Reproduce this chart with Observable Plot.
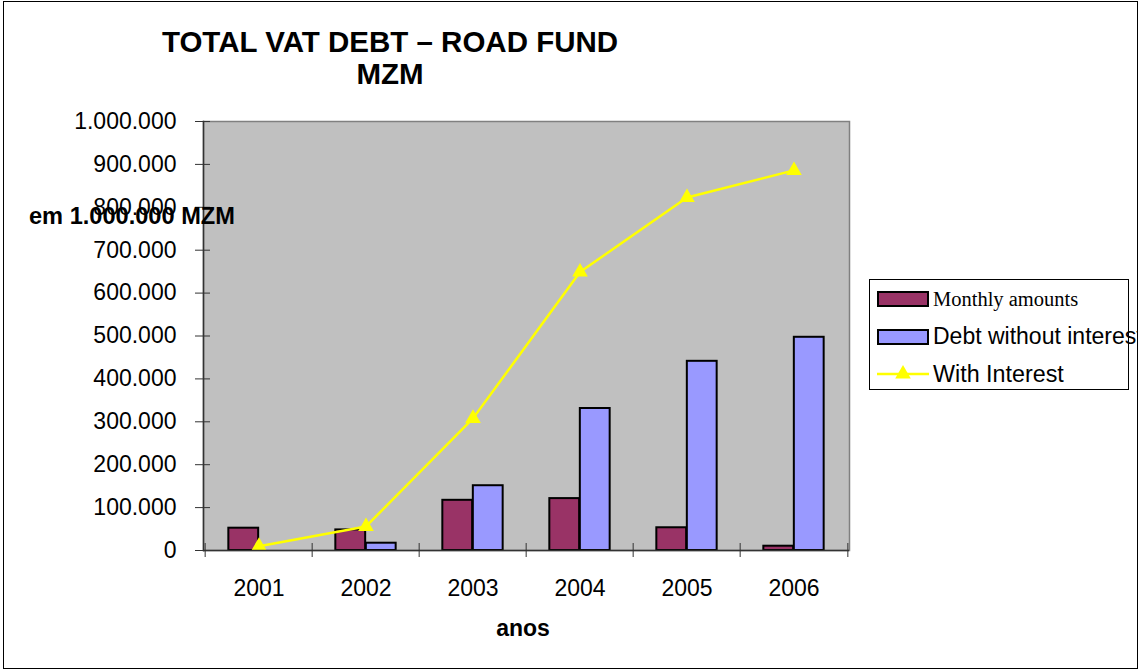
<!DOCTYPE html>
<html><head><meta charset="utf-8">
<script src="https://cdn.jsdelivr.net/npm/d3@7"></script>
<script src="https://cdn.jsdelivr.net/npm/@observablehq/plot@0.6"></script>
<style>
body{margin:0;background:#fff;}
#wrap{position:relative;width:1138px;height:670px;overflow:hidden;font-family:"Liberation Sans",Arial,sans-serif;color:#000;}
.abs{position:absolute;white-space:nowrap;line-height:1;}
#wrap svg.plot{position:absolute;left:0;top:0;}
</style></head><body><div id="wrap"></div>
<script>
// ---- data ----
const years = ["2001", "2002", "2003", "2004", "2005", "2006"];
const monthlyAmounts = [52000, 48000, 117000, 121000, 53000, 10000];
const debtWithoutInterest = [null, 17000, 151000, 331000, 441000, 497000];
const withInterest = [10000, 56000, 308000, 649000, 823000, 886000];
const yTicks = [0, 100000, 200000, 300000, 400000, 500000, 600000, 700000, 800000, 900000, 1000000];
const seriesNames = ["Monthly amounts", "Debt without interest", "With Interest"];
const titleLines = ["TOTAL VAT DEBT \u2013 ROAD FUND", "MZM"];
const yLabel = "em 1.000.000 MZM";
const xLabel = "anos";

const rows = years.map((y, i) => ({year: y, monthly: monthlyAmounts[i], debt: debtWithoutInterest[i], interest: withInterest[i]}));
const fmt = d => d3.format(",")(d).replace(/,/g, ".");

const W = 1138, H = 670, mL = 203, mR = 289, mT = 121, mB = 120;
const half = (W - mL - mR) / years.length / 2;
const frameW = W - mL - mR, frameH = H - mT - mB;

const chart = Plot.plot({
  width: W, height: H,
  marginLeft: mL, marginRight: mR, marginTop: mT, marginBottom: mB,
  style: {fontFamily: "Liberation Sans, Arial, sans-serif", fontSize: "23px", color: "#000", background: "transparent", overflow: "visible"},
  x: {type: "band", domain: years, padding: 0, label: null},
  y: {domain: [0, 1000000], label: null},
  marks: [
    Plot.frame({fill: "#c0c0c0", stroke: "#808080", strokeWidth: 1.5}),
    Plot.barY(rows.filter(d => d.monthly != null), {x: "year", y: "monthly", fill: "#993366", stroke: "#000", strokeWidth: 2, insetLeft: half - 30.5, insetRight: half}),
    Plot.barY(rows.filter(d => d.debt != null), {x: "year", y: "debt", fill: "#9999ff", stroke: "#000", strokeWidth: 2, insetLeft: half, insetRight: half - 30.5}),
    Plot.line(rows, {x: "year", y: "interest", stroke: "#ffff00", strokeWidth: 2.5}),
    Plot.dot(rows, {x: "year", y: "interest", symbol: "triangle", r: 5.8, fill: "#ffff00", stroke: null}),
    Plot.ruleY([0], {stroke: "#333", strokeWidth: 1.5}),
    Plot.frame({anchor: "left", stroke: "#333", strokeWidth: 1.5}),
    Plot.tickY(yTicks, {y: d => d, stroke: "#333", strokeWidth: 1, insetLeft: -8, insetRight: frameW - 7}),
    Plot.tickX(years, {x: d => d, dx: -half, stroke: "#333", strokeWidth: 1, insetTop: frameH - 7, insetBottom: -7}),
    Plot.tickX(years.slice(-1), {x: d => d, dx: half, stroke: "#333", strokeWidth: 1, insetTop: frameH - 7, insetBottom: -7}),
    Plot.axisY({ticks: yTicks, tickSize: 0, tickPadding: 27, tickFormat: fmt, fontSize: 23, label: null}),
    Plot.axisX({tickSize: 0, tickPadding: 28.7, fontSize: 23, label: null})
  ]
});
chart.classList.add("plot");
const wrap = document.getElementById("wrap");
wrap.appendChild(chart);

function addText(txt, {left, baseline, size, weight = "normal", family = "Liberation Sans, Arial, sans-serif", center = false, asc = 0.8465}) {
  const d = document.createElement("div");
  d.className = "abs";
  d.textContent = txt;
  d.style.fontSize = size + "px";
  d.style.fontWeight = weight;
  d.style.fontFamily = family;
  d.style.left = left + "px";
  d.style.top = (baseline - asc * size) + "px";
  if (center) d.style.transform = "translateX(-50%)";
  wrap.appendChild(d);
  return d;
}

// outer border
const border = document.createElement("div");
Object.assign(border.style, {position: "absolute", left: "3px", top: "1px", width: "1135px", height: "668px", border: "1px solid #000", boxSizing: "border-box", pointerEvents: "none"});
wrap.appendChild(border);

// titles
addText(titleLines[0], {left: 390, baseline: 51.5, size: 29.5, weight: "bold", center: true});
addText(titleLines[1], {left: 390, baseline: 84, size: 29.5, weight: "bold", center: true});
addText(yLabel, {left: 29, baseline: 224.5, size: 23.6, weight: "bold"});
addText(xLabel, {left: 523, baseline: 636.5, size: 23, weight: "bold", center: true});

// legend
const leg = document.createElement("div");
Object.assign(leg.style, {position: "absolute", left: "869px", top: "279px", width: "260px", height: "111px", border: "1px solid #000", boxSizing: "border-box", background: "#fff"});
wrap.appendChild(leg);
const lsvg = d3.create("svg").attr("width", 60).attr("height", 110)
  .style("position", "absolute").style("left", "872px").style("top", "280px");
lsvg.append("rect").attr("x", 6).attr("y", 12).attr("width", 50).attr("height", 14).attr("fill", "#993366").attr("stroke", "#000").attr("stroke-width", 2);
lsvg.append("rect").attr("x", 6).attr("y", 50).attr("width", 50).attr("height", 14).attr("fill", "#9999ff").attr("stroke", "#000").attr("stroke-width", 2);
lsvg.append("line").attr("x1", 5).attr("x2", 57).attr("y1", 94).attr("y2", 94).attr("stroke", "#ffff00").attr("stroke-width", 2.5);
lsvg.append("path").attr("d", d3.symbol(d3.symbolTriangle, Math.PI * 5.8 * 5.8)()).attr("transform", "translate(31,94)").attr("fill", "#ffff00");
wrap.appendChild(lsvg.node());
addText(seriesNames[0], {left: 933, baseline: 306, size: 20.5, family: "Liberation Serif, Times New Roman, serif", asc: 0.8375});
addText(seriesNames[1], {left: 933, baseline: 344, size: 23});
addText(seriesNames[2], {left: 933, baseline: 382.5, size: 23.3});
</script></body></html>
